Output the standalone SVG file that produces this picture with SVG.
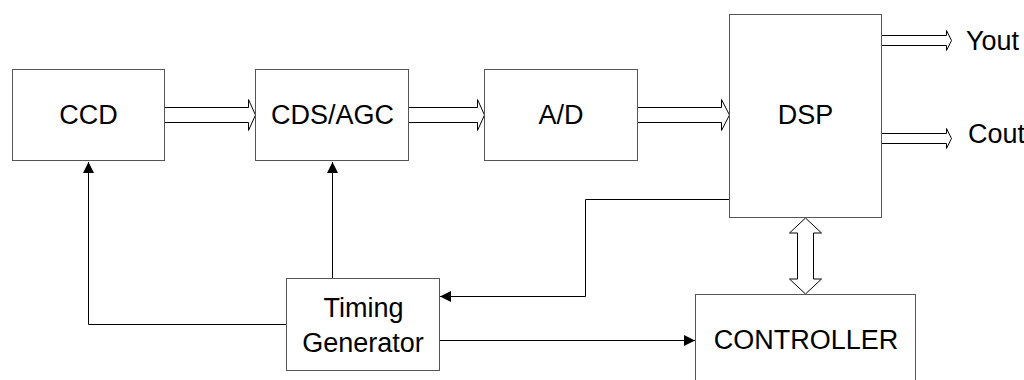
<svg xmlns="http://www.w3.org/2000/svg" width="1024" height="380" viewBox="0 0 1024 380">
<style>
.box{fill:#fff;stroke:#555;stroke-width:1}
.lbl{font-family:"Liberation Sans",Arial,sans-serif;font-size:27px;fill:#000;text-anchor:middle}
.lbl2{font-family:"Liberation Sans",Arial,sans-serif;font-size:27px;fill:#000}
.bus{fill:#fff;stroke:#000;stroke-width:1;stroke-linejoin:miter}
.wire{fill:none;stroke:#000;stroke-width:1}
</style>
<defs>
<marker id="ah" markerUnits="userSpaceOnUse" markerWidth="12" markerHeight="12" refX="11" refY="5.5" orient="auto">
<path d="M0,0 L11,5.5 L0,11 z" fill="#000"/>
</marker>
</defs>
<rect width="1024" height="380" fill="#fff"/>
<g id="connectors">
<polygon class="bus" points="164.5,107.5 248.5,107.5 248.5,99.5 255.5,115 248.5,130.5 248.5,122.5 164.5,122.5"/>
<polygon class="bus" points="408.5,107.5 477.5,107.5 477.5,99.5 484.5,115 477.5,130.5 477.5,122.5 408.5,122.5"/>
<polygon class="bus" points="637.5,107.5 721.5,107.5 721.5,99.5 729.5,115 721.5,130.5 721.5,122.5 637.5,122.5"/>
<polygon class="bus" points="881.5,35.5 946.5,35.5 946.5,30.5 951.5,40.5 946.5,50.5 946.5,45.5 881.5,45.5"/>
<polygon class="bus" points="881.5,133.5 946.5,133.5 946.5,128.5 951.5,138.5 946.5,148.5 946.5,143.5 881.5,143.5"/>
<polygon class="bus" points="805.5,218 821.5,233 813.5,233 813.5,279 821.5,279 805.5,294 789.5,279 797.5,279 797.5,233 789.5,233"/>
<path class="wire" d="M286.5,324.5 H88.5 V162" marker-end="url(#ah)"/>
<path class="wire" d="M332.5,278.5 V162" marker-end="url(#ah)"/>
<path class="wire" d="M732.5,199.5 H585.5 V296.5 H440" marker-end="url(#ah)"/>
<path class="wire" d="M439.5,340.5 H695" marker-end="url(#ah)"/>
</g>
<g id="ccd">
<rect class="box" x="12.5" y="69.5" width="152" height="91"/>
<text class="lbl" x="88.5" y="124">CCD</text>
</g>
<g id="cdsagc">
<rect class="box" x="255.5" y="69.5" width="153" height="91"/>
<text class="lbl" x="332.5" y="124">CDS/AGC</text>
</g>
<g id="ad">
<rect class="box" x="484.5" y="69.5" width="153" height="91"/>
<text class="lbl" x="561" y="124">A/D</text>
</g>
<g id="dsp">
<rect class="box" x="729.5" y="14.5" width="152" height="203"/>
<text class="lbl" x="805.5" y="124">DSP</text>
</g>
<g id="yout">
<text class="lbl2" x="966" y="49.5">Yout</text>
</g>
<g id="cout">
<text class="lbl2" x="968" y="143">Cout</text>
</g>
<g id="timing">
<rect class="box" x="286.5" y="278.5" width="153" height="92"/>
<text class="lbl" x="363.5" y="316.5">Timing</text>
<text class="lbl" x="363" y="351.5">Generator</text>
</g>
<g id="controller">
<rect class="box" x="695.5" y="294.5" width="220" height="100"/>
<text class="lbl" x="806" y="348.5">CONTROLLER</text>
</g>
</svg>
